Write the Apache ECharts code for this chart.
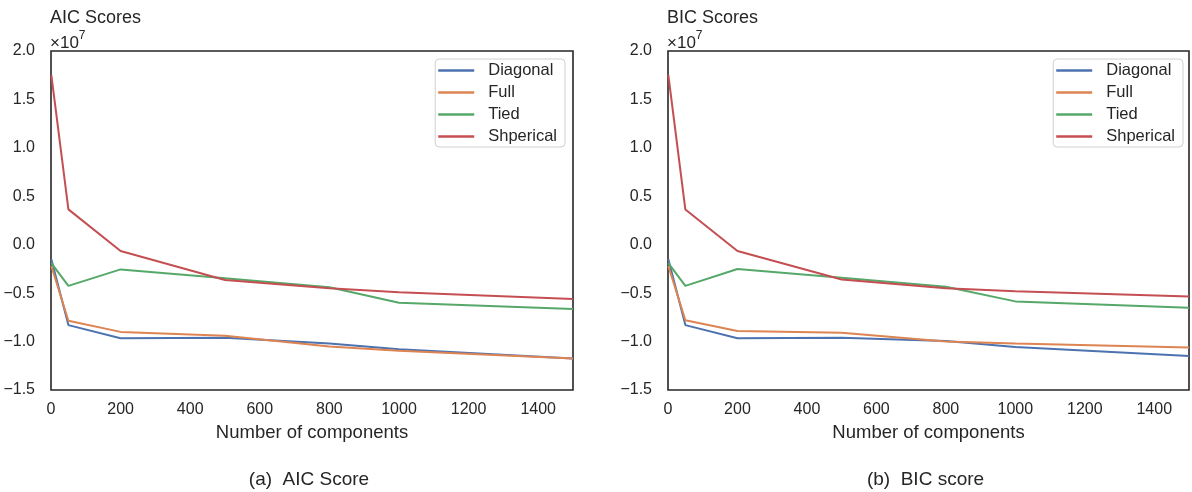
<!DOCTYPE html>
<html>
<head>
<meta charset="utf-8">
<script src="https://cdn.jsdelivr.net/npm/echarts@6/dist/echarts.min.js"></script>
<style>
html,body{margin:0;padding:0;background:#fff;}
#chart{width:1192px;height:492px;}
</style>
</head>
<body>
<div id="chart"></div>
<script>
// x values: number of components
const components = [1, 50, 200, 500, 800, 1000, 1500];
const seriesNames = ['Diagonal', 'Full', 'Tied', 'Shperical'];
// AIC scores (units of 1e7)
const aicDiagonal = [-0.15, -0.83, -0.965, -0.96, -1.02, -1.08, -1.175];
const aicFull     = [-0.22, -0.785, -0.90, -0.94, -1.05, -1.095, -1.175];
const aicTied     = [-0.19, -0.425, -0.255, -0.345, -0.44, -0.60, -0.665];
const aicSpherical= [1.75, 0.365, -0.065, -0.365, -0.45, -0.49, -0.56];
// BIC scores (units of 1e7)
const bicDiagonal = [-0.15, -0.83, -0.965, -0.96, -0.995, -1.055, -1.15];
const bicFull     = [-0.22, -0.78, -0.89, -0.91, -1.0, -1.02, -1.06];
const bicTied     = [-0.19, -0.425, -0.25, -0.34, -0.435, -0.585, -0.65];
const bicSpherical= [1.75, 0.363, -0.064, -0.36, -0.45, -0.48, -0.535];
const xTicks = [0, 200, 400, 600, 800, 1000, 1200, 1400];
const yTicks = [-1.5, -1.0, -0.5, 0.0, 0.5, 1.0, 1.5, 2.0];
const panelTitles = ['AIC Scores', 'BIC Scores'];
const captions = ['(a)  AIC Score', '(b)  BIC score'];
const xName = 'Number of components';

const colors = ['#4c72b0', '#dd8452', '#55a868', '#c44e52'];
const FONT = '"Liberation Sans", Arial, sans-serif';
const TXT = '#262626';

const panels = [
  {left: 51, width: 522, data: [aicDiagonal, aicFull, aicTied, aicSpherical], legendRight: 627},
  {left: 668, width: 521, data: [bicDiagonal, bicFull, bicTied, bicSpherical], legendRight: 9}
];

const chart = echarts.init(document.getElementById('chart'), null, {renderer: 'canvas'});

const grids = [], xAxes = [], yAxes = [], series = [], legends = [], graphics = [];
panels.forEach((p, pi) => {
  grids.push({left: p.left, width: p.width, top: 51, height: 339, show: true,
    borderColor: TXT, borderWidth: 1.6, backgroundColor: 'transparent', containLabel: false});
  xAxes.push({type: 'value', gridIndex: pi, min: 0, max: 1500, interval: 200,
    name: xName, nameLocation: 'middle', nameGap: 33,
    nameTextStyle: {fontFamily: FONT, fontSize: 18.5, color: TXT},
    axisLine: {show: false}, axisTick: {show: false}, splitLine: {show: false},
    axisLabel: {fontFamily: FONT, fontSize: 16, color: TXT, margin: 12,
      formatter: v => xTicks.indexOf(v) >= 0 ? String(v) : ''}
  });
  yAxes.push({type: 'value', gridIndex: pi, min: -1.5, max: 2.0, interval: 0.5,
    axisLine: {show: false}, axisTick: {show: false}, splitLine: {show: false},
    axisLabel: {fontFamily: FONT, fontSize: 16, color: TXT, margin: 16,
      formatter: v => yTicks.some(t => Math.abs(t - v) < 1e-9) ? ((v < -1e-9 ? '\u2212' : '') + Math.abs(v).toFixed(1)) : ''}
  });
  p.data.forEach((vals, si) => {
    series.push({type: 'line', name: seriesNames[si], xAxisIndex: pi, yAxisIndex: pi,
      data: components.map((c, i) => [c, vals[i]]),
      showSymbol: false, symbol: 'none', color: colors[si],
      lineStyle: {width: 2, color: colors[si]}, animation: false, z: 3 + si});
  });
  legends.push({orient: 'vertical', right: p.legendRight, top: 59,
    data: seriesNames, icon: 'rect', itemWidth: 36, itemHeight: 2.5, itemGap: 5,
    padding: [3, 8, 2, 3], borderColor: '#d0d0d0', borderWidth: 1, borderRadius: 4,
    backgroundColor: '#fff',
    textStyle: {fontFamily: FONT, fontSize: 16.5, color: TXT, lineHeight: 16, padding: [0, 0, 0, 9]},
    selectedMode: false});
  graphics.push({type: 'text', left: p.left - 1, top: 9,
    style: {text: panelTitles[pi], font: '18px ' + FONT, fill: TXT}});
  graphics.push({type: 'text', left: p.left - 1, top: 30,
    style: {text: '\u00d710{s|7}', font: '17px ' + FONT, fill: TXT,
      rich: {s: {fontSize: 12, fontFamily: FONT, fill: TXT, verticalAlign: 'top', padding: [0,0,14,0]}}}});
  graphics.push({type: 'text', x: p.left + p.width / 2 - 3, y: 480,
    style: {text: captions[pi], font: '19px ' + FONT, fill: TXT, align: 'center', verticalAlign: 'middle'}});
});

chart.setOption({
  animation: false,
  backgroundColor: '#fff',
  grid: grids, xAxis: xAxes, yAxis: yAxes, series: series, legend: legends,
  graphic: graphics
});
</script>
</body>
</html>
